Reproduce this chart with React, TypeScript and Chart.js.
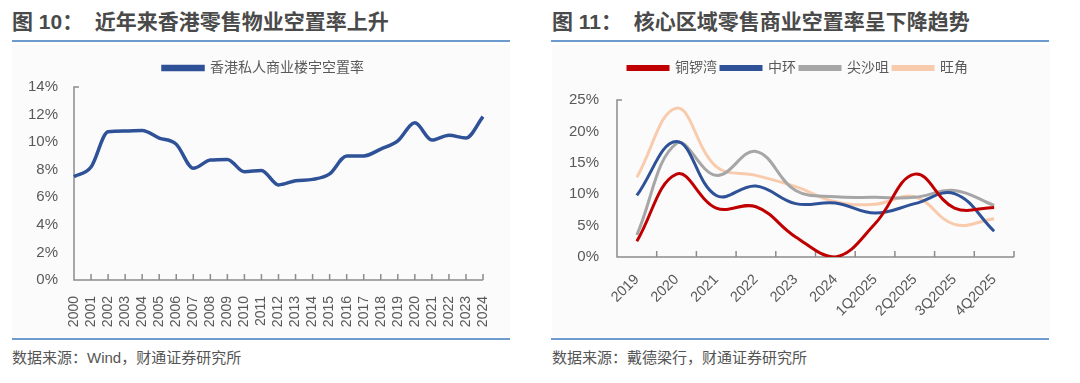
import React, { useEffect, useRef } from "react";
import { Chart, registerables } from "chart.js";

Chart.register(...registerables);

// ---------- Data ----------
const yearsLeft = ["2000","2001","2002","2003","2004","2005","2006","2007","2008","2009","2010","2011","2012","2013","2014","2015","2016","2017","2018","2019","2020","2021","2022","2023","2024"];
const hkVacancy = [7.5,8.2,10.75,10.8,10.85,10.3,9.85,8.1,8.7,8.75,7.85,7.95,6.9,7.2,7.3,7.7,9.0,9.0,9.5,10.1,11.4,10.15,10.5,10.3,11.85];

const periodsRight = ["2019","2020","2021","2022","2023","2024","1Q2025","2Q2025","3Q2025","4Q2025"];
const causewayBay = [2.5,13.2,7.8,8.0,3.2,0.0,5.3,13.2,7.8,7.9];
const central = [9.8,18.4,9.8,11.3,8.5,8.6,7.0,8.5,10.1,4.1];
const tsimShaTsui = [3.5,18.1,13.0,16.8,10.6,9.6,9.5,9.5,10.6,8.2];
const mongKok = [12.7,23.7,14.4,13.0,11.2,8.8,8.4,9.6,5.2,6.1];

const leftYTicks = [0, 2, 4, 6, 8, 10, 12, 14];
const rightYTicks = [0, 5, 10, 15, 20, 25];

const FONT = "'Liberation Sans', Arial, 'Noto Sans CJK SC', sans-serif";
const LABEL_COLOR = "#595959";
const AXIS_COLOR = "#8c8c8c";

function makeAxisPlugin(offset: boolean) {
  return {
    id: "inwardAxis",
    beforeDatasetsDraw(chart: any) {
      const { ctx, chartArea, scales } = chart;
      const { left, right, top, bottom } = chartArea;
      const x = scales.x;
      ctx.save();
      ctx.strokeStyle = AXIS_COLOR;
      ctx.lineWidth = 1.5;
      ctx.beginPath();
      ctx.moveTo(left + 5, top);
      ctx.lineTo(left, top);
      ctx.lineTo(left, bottom);
      ctx.lineTo(right, bottom);
      const n = x.ticks.length;
      if (offset) {
        for (let i = 0; i <= n; i++) {
          const px = x.getPixelForValue(i - 0.5);
          ctx.moveTo(px, bottom);
          ctx.lineTo(px, bottom - 6);
        }
      } else {
        for (let i = 0; i < n; i++) {
          const px = x.getPixelForTick(i);
          ctx.moveTo(px, bottom);
          ctx.lineTo(px, bottom - 6);
        }
      }
      ctx.stroke();
      ctx.restore();
    },
  };
}

function legendPlugin(h: number, dx: number) {
  return {
    id: "legendTweak",
    beforeInit(chart: any) {
      const orig = chart.legend.fit;
      chart.legend.fit = function () {
        orig.bind(chart.legend)();
        this.height = h;
      };
    },
    afterLayout(chart: any) {
      if (dx) {
        chart.legend.left += dx;
        chart.legend.right += dx;
      }
    },
  };
}

function LeftChart() {
  const ref = useRef<HTMLCanvasElement>(null);
  useEffect(() => {
    const chart = new Chart(ref.current!, {
      type: "line",
      data: {
        labels: yearsLeft,
        datasets: [
          {
            label: "香港私人商业楼宇空置率",
            data: hkVacancy,
            borderColor: "#2E5197",
            backgroundColor: "#2E5197",
            borderWidth: 3.5,
            pointRadius: 0,
            tension: 0.4,
            cubicInterpolationMode: "monotone",
          },
        ],
      },
      options: {
        animation: false,
        responsive: false,
        maintainAspectRatio: false,
        layout: { padding: { left: 0, right: 27, top: 6, bottom: 0 } },
        plugins: {
          legend: {
            position: "top",
            labels: {
              boxWidth: 40,
              boxHeight: 3,
              padding: 10,
              color: LABEL_COLOR,
              font: { family: FONT, size: 14 },
            },
          },
          tooltip: { enabled: false },
        },
        scales: {
          x: {
            offset: false,
            grid: { display: false },
            border: { display: false },
            ticks: {
              minRotation: 90,
              maxRotation: 90,
              autoSkip: false,
              padding: 8,
              color: LABEL_COLOR,
              font: { family: FONT, size: 14 },
            },
            afterFit: (s: any) => { s.height = 57; },
          },
          y: {
            min: 0,
            max: 14,
            afterBuildTicks: (s: any) => { s.ticks = leftYTicks.map((v) => ({ value: v })); },
            grid: { display: false },
            border: { display: false },
            ticks: {
              padding: 8,
              color: LABEL_COLOR,
              font: { family: FONT, size: 15 },
              callback: (v: any) => v + "%",
            },
            afterFit: (s: any) => { s.width = 62; },
          },
        },
      },
      plugins: [makeAxisPlugin(false), legendPlugin(36, 16)],
    } as any);
    return () => chart.destroy();
  }, []);
  return <canvas ref={ref} width={498} height={292} style={{ display: "block" }} />;
}

function RightChart() {
  const ref = useRef<HTMLCanvasElement>(null);
  useEffect(() => {
    const mk = (label: string, data: number[], color: string) => ({
      label,
      data,
      borderColor: color,
      backgroundColor: color,
      borderWidth: 3,
      pointRadius: 0,
      tension: 0.4,
    });
    const chart = new Chart(ref.current!, {
      type: "line",
      data: {
        labels: periodsRight,
        datasets: [
          mk("铜锣湾", causewayBay, "#C00000"),
          mk("中环", central, "#2E5197"),
          mk("尖沙咀", tsimShaTsui, "#A6A6A6"),
          mk("旺角", mongKok, "#F8CBAD"),
        ],
      },
      options: {
        animation: false,
        responsive: false,
        maintainAspectRatio: false,
        layout: { padding: { left: 0, right: 36, top: 12, bottom: 0 } },
        plugins: {
          legend: {
            position: "top",
            labels: {
              boxWidth: 40,
              boxHeight: 3,
              padding: 4,
              color: LABEL_COLOR,
              font: { family: FONT, size: 14 },
            },
          },
          tooltip: { enabled: false },
        },
        scales: {
          x: {
            offset: true,
            grid: { display: false },
            border: { display: false },
            ticks: {
              minRotation: 45,
              maxRotation: 45,
              autoSkip: false,
              padding: 6,
              color: LABEL_COLOR,
              font: { family: FONT, size: 14.5 },
            },
            afterFit: (s: any) => { s.height = 80; },
          },
          y: {
            min: 0,
            max: 25,
            afterBuildTicks: (s: any) => { s.ticks = rightYTicks.map((v) => ({ value: v })); },
            grid: { display: false },
            border: { display: false },
            ticks: {
              padding: 10,
              color: LABEL_COLOR,
              font: { family: FONT, size: 15 },
              callback: (v: any) => v + "%",
            },
            afterFit: (s: any) => { s.width = 65; },
          },
        },
      },
      plugins: [makeAxisPlugin(true), legendPlugin(43, 15)],
    } as any);
    return () => chart.destroy();
  }, []);
  return <canvas ref={ref} width={498} height={292} style={{ display: "block" }} />;
}

const titleStyle: React.CSSProperties = {
  position: "absolute",
  top: 9,
  fontFamily: "'Liberation Sans', Arial, 'Noto Sans CJK SC', sans-serif",
  fontSize: 21,
  fontWeight: "bold",
  color: "#4a4a4a",
  whiteSpace: "pre",
  lineHeight: "26px",
};
const sourceStyle: React.CSSProperties = {
  position: "absolute",
  top: 348,
  fontFamily: "'Liberation Sans', Arial, 'Noto Sans CJK SC', sans-serif",
  fontSize: 15,
  color: "#555555",
  whiteSpace: "pre",
  lineHeight: "20px",
};
const rule = (left: number, top: number, width: number, h: number): React.CSSProperties => ({
  position: "absolute",
  left,
  top,
  width,
  height: h,
  background: "#6d9bcd",
});

export default function App() {
  return (
    <div style={{ position: "fixed", left: 0, top: 0, width: 1080, height: 383, background: "#ffffff", overflow: "hidden" }}>
      <div style={{ ...titleStyle, left: 12 }}>图 10：  近年来香港零售物业空置率上升</div>
      <div style={rule(12, 40, 498, 2)} />
      <div style={{ position: "absolute", left: 12, top: 45, width: 498, height: 292, background: "#fbfbfb" }}>
        <LeftChart />
      </div>
      <div style={rule(12, 338, 498, 1.5)} />
      <div style={{ ...sourceStyle, left: 12 }}>数据来源：Wind，财通证券研究所</div>

      <div style={{ ...titleStyle, left: 552 }}>图 11：  核心区域零售商业空置率呈下降趋势</div>
      <div style={rule(551, 40, 498, 2)} />
      <div style={{ position: "absolute", left: 552, top: 45, width: 498, height: 292, background: "#fbfbfb" }}>
        <RightChart />
      </div>
      <div style={rule(551, 338, 498, 1.5)} />
      <div style={{ ...sourceStyle, left: 552 }}>数据来源：戴德梁行，财通证券研究所</div>
    </div>
  );
}
